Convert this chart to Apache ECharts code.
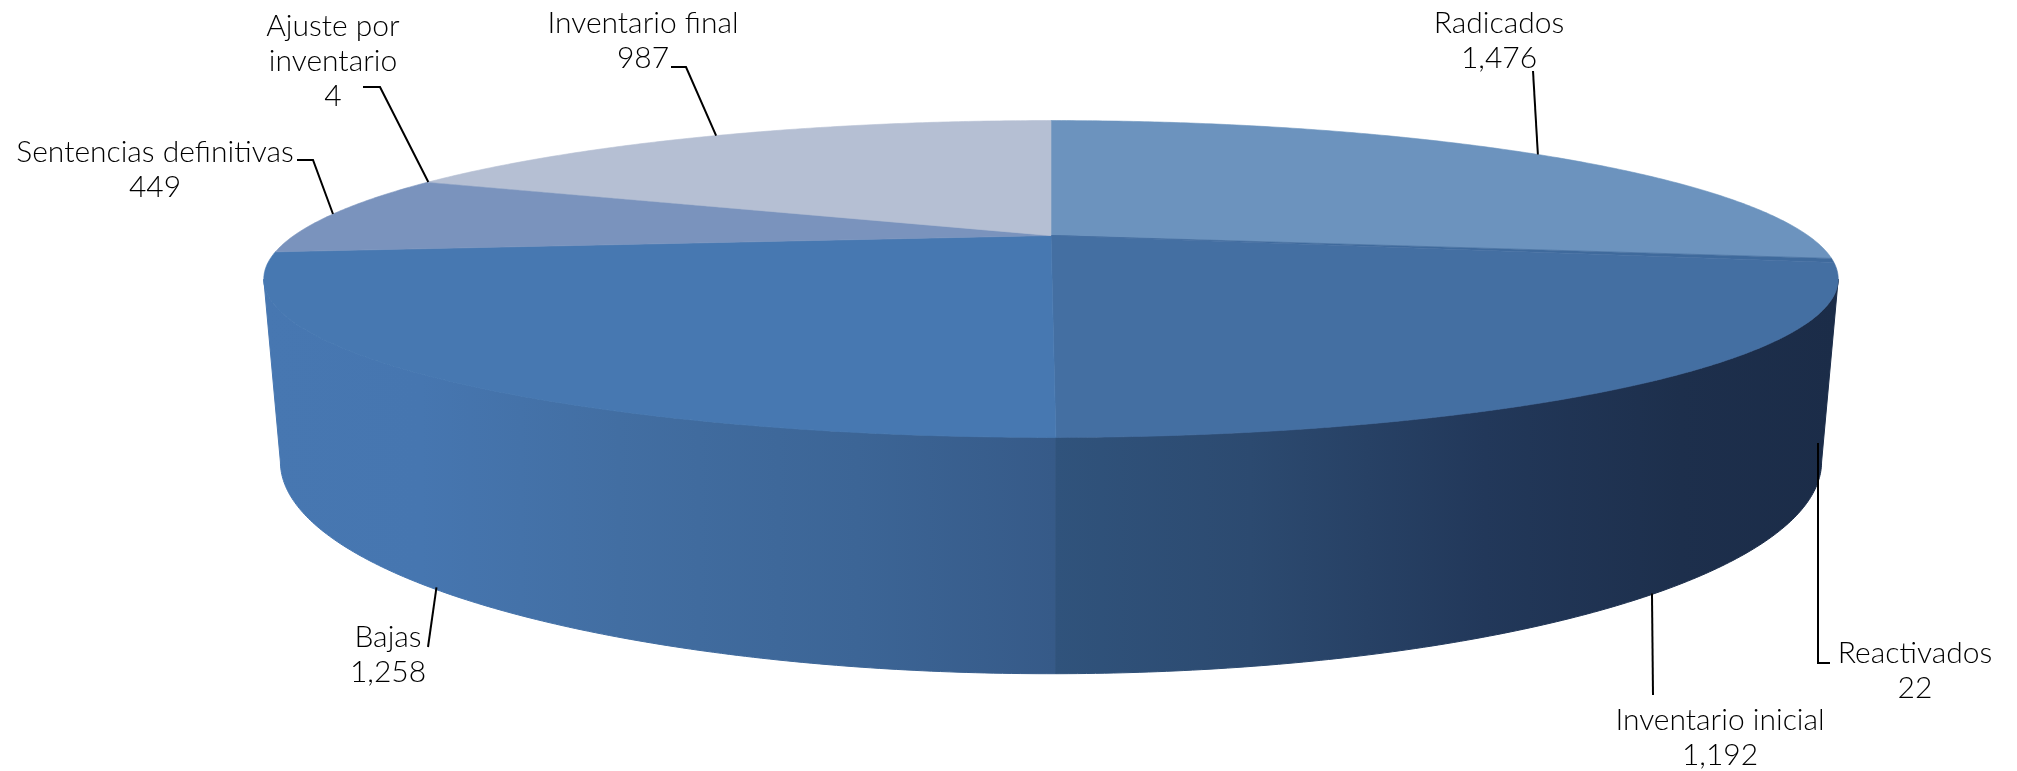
<!DOCTYPE html>
<html><head><meta charset="utf-8">
<style>html,body{margin:0;padding:0;background:#fff}#c{width:2017px;height:771px}</style>
<script src="https://cdn.jsdelivr.net/npm/echarts@6/dist/echarts.min.js"></script>
</head><body><div id="c"></div>
<script>
// ---- data ----
const categories = ['Radicados','Reactivados','Inventario inicial','Bajas','Sentencias definitivas','Ajuste por\ninventario','Inventario final'];
const values = [1476,22,1192,1258,449,4,987];
const faceColors = ['#6c93be','#3f6a9c','#446fa2','#4778b1','#7a93bd','#8ea2c4','#b5bfd3'];

// ---- projection of the tilted disc (layout, not data) ----
const view = {cx:1051, k:0.2744, top:{cy:235.5,a:146.5,b:757}, bottom:{cy:403.6,a:196,b:741}, frontFrom:106, frontTo:254};
// label block centre (x, y of first line), leader bend and end, per category
const labelLayout = [
  {x:1499,y:23, path:[[1533,71]], on:'top'},
  {x:1915,y:653, path:[[1818,663],[1830,663]], on:'wall', anchor:[1818,443]},
  {x:1720,y:720, path:[[1653,695]], on:'bottom', dx:-3},
  {x:388,y:637, path:[[428,647]], on:'bottom', dx:6},
  {x:155,y:152, path:[[313,160],[297,160]], on:'top'},
  {x:333,y:26, path:[[380,87],[363,87]], on:'top'},
  {x:643,y:23, path:[[686,67],[671,67]], on:'top'}
];
const total = values.reduce((s,v)=>s+v,0);
const fmt = v => String(v).replace(/\B(?=(\d{3})+$)/g,',');
function pt(deg, disc){
  const t = deg*Math.PI/180, u = Math.sin(t), v = -Math.cos(t), w = 1-view.k*v;
  return [view.cx+disc.b*u/w, disc.cy+disc.a*v/w];
}
const wallLeft = new echarts.graphic.LinearGradient(263,0,1055,0,[
  {offset:0,color:'#4777b1'},{offset:0.2,color:'#4676b0'},{offset:0.45,color:'#426ea2'},{offset:0.75,color:'#3c6596'},{offset:1,color:'#365a88'}],true);
const wallRight = new echarts.graphic.LinearGradient(1055,0,1837,0,[
  {offset:0,color:'#30537c'},{offset:0.25,color:'#2c4a70'},{offset:0.55,color:'#22385a'},{offset:0.8,color:'#1d2f4c'},{offset:1,color:'#1b2c48'}],true);

function renderItem(params, api){
  const i = params.dataIndex;
  let before = 0; for(let j=0;j<i;j++) before += values[j];
  const a0 = before/total*360, a1 = (before+api.value(1))/total*360, mid=(a0+a1)/2;
  const kids = [];
  // top face
  const face = [[view.cx,view.top.cy]];
  for(let d=a0;d<a1;d+=0.5) face.push(pt(d,view.top));
  face.push(pt(a1,view.top));
  kids.push({type:'polygon',z2:5,shape:{points:face},style:{fill:faceColors[i],stroke:faceColors[i],lineWidth:0.6}});
  // side wall on the visible front arc
  const f0=Math.max(a0,view.frontFrom), f1=Math.min(a1,view.frontTo);
  if(f1>f0){
    const up=[],low=[];
    for(let d=f0;d<f1;d+=0.5){up.push(pt(d,view.top));low.push(pt(d,view.bottom));}
    up.push(pt(f1,view.top));low.push(pt(f1,view.bottom));
    const fill = mid<180?wallRight:wallLeft;
    kids.push({type:'polygon',z2:mid<180?3:2,shape:{points:up.concat(low.reverse())},style:{fill:fill,stroke:fill,lineWidth:1}});
  }
  // leader
  const L = labelLayout[i];
  let start = L.anchor || pt(mid, L.on==='bottom'?view.bottom:view.top);
  if(L.dx) start=[start[0]+L.dx,start[1]];
  kids.push({type:'polyline',z2:8,shape:{points:[start].concat(L.path)},style:{fill:null,stroke:'#000',lineWidth:2}});
  // label
  kids.push({type:'text',z2:9,x:L.x,y:L.y-17.5,style:{
    text:api.value(2)+'\n'+fmt(api.value(1)),
    fill:'#000',font:'300 30px Lato',align:'center',verticalAlign:'top',lineHeight:35}});
  return {type:'group',children:kids};
}
const chart = echarts.init(document.getElementById('c'),null,{renderer:'canvas'});
chart.setOption({
  animation:false,
  backgroundColor:'#fff',
  series:[{type:'custom',coordinateSystem:'none',renderItem,silent:true,
    dimensions:['index','value','name'],encode:{value:1},
    data:categories.map((c,i)=>[i,values[i],c])}]
});
</script></body></html>
